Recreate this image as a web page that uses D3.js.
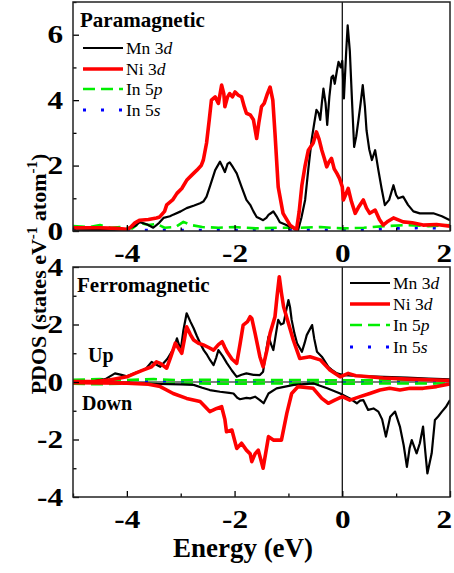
<html>
<head>
<script src="https://cdnjs.cloudflare.com/ajax/libs/d3/7.8.5/d3.min.js"></script>
<style>
  body { margin: 0; background: #fff; }
  text { font-family: "Liberation Serif", "Times New Roman", serif; }
</style>
</head>
<body>
<div id="cont"></div>
<script>
// ---- data: [energy (eV), PDOS] ----
var paraMn = [[-5,0.02],[-4.6,0.03],[-4.3,0.03],[-4.0,0.05],[-3.85,0.15],[-3.76,0.27],[-3.62,0.2],[-3.51,0.1],[-3.4,0.25],[-3.32,0.4],[-3.2,0.45],[-3.14,0.5],[-3.0,0.6],[-2.89,0.7],[-2.75,0.78],[-2.64,0.85],[-2.58,0.9],[-2.52,1.05],[-2.45,1.4],[-2.36,1.86],[-2.27,2.12],[-2.22,1.95],[-2.18,1.8],[-2.13,2.05],[-2.09,2.1],[-2.03,1.95],[-1.96,1.76],[-1.87,1.35],[-1.78,0.95],[-1.71,0.8],[-1.65,0.6],[-1.59,0.43],[-1.53,0.38],[-1.47,0.33],[-1.41,0.4],[-1.37,0.49],[-1.32,0.55],[-1.28,0.6],[-1.22,0.45],[-1.16,0.27],[-1.06,0.2],[-0.97,0.13],[-0.9,0.08],[-0.82,0.03],[-0.76,0.4],[-0.69,0.95],[-0.63,1.9],[-0.57,2.78],[-0.52,3.3],[-0.48,3.7],[-0.44,3.6],[-0.41,3.4],[-0.38,3.9],[-0.35,4.35],[-0.31,3.9],[-0.28,3.24],[-0.24,4.1],[-0.2,4.7],[-0.17,4.75],[-0.14,4.5],[-0.1,4.9],[-0.07,5.17],[-0.03,5.0],[0,5.2],[0.03,4.05],[0.07,5.4],[0.10,6.29],[0.14,5.5],[0.18,4.0],[0.22,2.57],[0.26,2.9],[0.30,3.39],[0.34,3.9],[0.38,4.46],[0.42,3.8],[0.45,3.08],[0.5,2.5],[0.55,2.17],[0.61,2.47],[0.67,1.86],[0.73,1.3],[0.79,0.79],[0.87,0.95],[0.95,1.4],[1.0,1.1],[1.04,1.0],[1.13,1.05],[1.22,0.8],[1.32,0.6],[1.44,0.54],[1.69,0.54],[1.85,0.45],[2.0,0.33]];
var paraNi = [[-5,0.1],[-4.5,0.1],[-4.2,0.08],[-4.0,0.05],[-3.94,0.1],[-3.85,0.25],[-3.76,0.33],[-3.6,0.35],[-3.45,0.4],[-3.39,0.43],[-3.3,0.6],[-3.26,0.8],[-3.15,0.95],[-3.07,1.15],[-2.98,1.3],[-2.89,1.55],[-2.8,1.7],[-2.70,1.86],[-2.62,2.0],[-2.58,2.17],[-2.52,2.69],[-2.47,3.4],[-2.43,4.0],[-2.36,4.1],[-2.3,3.9],[-2.24,4.46],[-2.2,4.2],[-2.18,3.8],[-2.13,4.1],[-2.09,4.2],[-2.04,4.1],[-1.99,4.25],[-1.93,4.15],[-1.87,4.1],[-1.82,3.8],[-1.78,3.6],[-1.71,3.55],[-1.65,3.4],[-1.59,2.83],[-1.55,3.3],[-1.50,3.8],[-1.45,3.9],[-1.39,4.2],[-1.34,4.4],[-1.29,4.0],[-1.25,3.0],[-1.19,1.35],[-1.10,0.54],[-0.97,0.18],[-0.85,0.03],[-0.8,0.6],[-0.75,1.4],[-0.69,2.0],[-0.63,2.47],[-0.54,2.69],[-0.48,3.03],[-0.43,2.8],[-0.38,2.47],[-0.33,2.2],[-0.29,1.96],[-0.25,2.1],[-0.2,2.22],[-0.15,1.9],[-0.1,1.76],[-0.05,1.6],[0,1.35],[0.02,0.95],[0.06,1.1],[0.11,1.3],[0.17,0.9],[0.24,0.54],[0.31,0.75],[0.39,0.95],[0.45,0.7],[0.51,0.54],[0.61,0.64],[0.69,0.35],[0.76,0.18],[0.85,0.3],[0.95,0.4],[1.13,0.28],[1.3,0.25],[1.5,0.18],[1.75,0.2],[2.0,0.15]];
var paraIn5p = [[-5,0.15],[-4.7,0.12],[-4.5,0.18],[-4.3,0.1],[-4.1,0.12],[-3.9,0.08],[-3.76,0.25],[-3.6,0.18],[-3.45,0.22],[-3.3,0.1],[-3.1,0.12],[-2.95,0.28],[-2.8,0.18],[-2.6,0.12],[-2.3,0.1],[-2.0,0.12],[-1.6,0.08],[-1.2,0.1],[-0.8,0.1],[-0.4,0.12],[0,0.08],[0.4,0.1],[0.8,0.15],[1.2,0.18],[1.6,0.15],[2,0.18]];
var paraIn5s = [[-5,0.03],[-4.5,0.03],[-4.2,0.08],[-3.8,0.02],[-3,0.02],[-2,0.02],[-1,0.03],[0,0.03],[0.5,0.05],[1.0,0.08],[1.5,0.1],[2,0.08]];

var ferroMnUp = [[-5,0.02],[-4.6,0.03],[-4.4,0.1],[-4.22,0.3],[-4.1,0.25],[-4.0,0.2],[-3.8,0.35],[-3.65,0.45],[-3.54,0.7],[-3.45,0.6],[-3.38,0.53],[-3.25,0.8],[-3.12,1.2],[-3.07,1.52],[-3.0,1.1],[-2.95,1.8],[-2.89,2.39],[-2.82,2.1],[-2.76,1.87],[-2.7,1.6],[-2.64,1.35],[-2.57,1.1],[-2.51,0.94],[-2.45,0.75],[-2.39,0.59],[-2.34,0.85],[-2.30,1.11],[-2.22,0.9],[-2.14,0.65],[-2.05,0.4],[-1.96,0.18],[-1.87,0.25],[-1.78,0.3],[-1.65,0.25],[-1.53,0.24],[-1.47,0.36],[-1.42,1.0],[-1.37,1.58],[-1.32,1.3],[-1.28,1.11],[-1.23,1.7],[-1.19,2.16],[-1.14,2.0],[-1.09,2.04],[-1.04,2.5],[-1.0,2.85],[-0.97,2.6],[-0.94,2.16],[-0.89,1.7],[-0.84,1.35],[-0.75,1.05],[-0.7,1.35],[-0.66,1.63],[-0.56,1.98],[-0.52,1.5],[-0.47,1.05],[-0.38,0.88],[-0.3,0.65],[-0.26,0.53],[-0.18,0.4],[-0.10,0.3],[0.02,0.24],[0.2,0.22],[0.5,0.2],[0.77,0.18],[1.2,0.15],[1.6,0.12],[2.0,0.09]];
var ferroNiUp = [[-5,0.02],[-4.6,0.02],[-4.3,0.08],[-4.0,0.18],[-3.85,0.3],[-3.69,0.42],[-3.54,0.53],[-3.45,0.7],[-3.38,0.65],[-3.26,0.48],[-3.18,0.9],[-3.1,1.35],[-2.98,1.0],[-2.93,1.5],[-2.89,1.92],[-2.82,1.65],[-2.76,1.46],[-2.67,1.35],[-2.58,1.29],[-2.48,1.2],[-2.39,1.11],[-2.3,1.3],[-2.23,1.4],[-2.18,1.2],[-2.14,1.05],[-2.05,0.8],[-1.96,0.65],[-1.9,1.3],[-1.84,1.98],[-1.76,2.1],[-1.71,2.27],[-1.68,2.21],[-1.62,1.7],[-1.53,0.88],[-1.47,0.53],[-1.4,1.1],[-1.34,1.7],[-1.25,2.27],[-1.21,3.0],[-1.17,3.66],[-1.13,3.1],[-1.09,2.62],[-1.0,2.04],[-0.91,1.46],[-0.79,0.82],[-0.6,0.88],[-0.41,0.77],[-0.23,0.42],[-0.04,0.18],[0.11,0.3],[0.25,0.22],[0.39,0.2],[0.76,0.14],[1.2,0.1],[1.6,0.08],[2,0.05]];
var ferroMnDown = [[-5,-0.02],[-4.0,-0.03],[-3.38,-0.07],[-3.0,-0.08],[-2.76,-0.1],[-2.6,-0.2],[-2.46,-0.28],[-2.27,-0.34],[-2.1,-0.38],[-2.02,-0.4],[-1.95,-0.55],[-1.9,-0.6],[-1.78,-0.55],[-1.71,-0.57],[-1.62,-0.51],[-1.53,-0.63],[-1.46,-0.74],[-1.37,-0.4],[-1.22,-0.22],[-0.9,-0.1],[-0.53,-0.05],[-0.28,-0.22],[-0.04,-0.4],[0.14,-0.57],[0.27,-0.74],[0.33,-0.65],[0.39,-0.63],[0.48,-0.97],[0.58,-0.92],[0.67,-1.03],[0.74,-1.3],[0.81,-1.9],[0.89,-1.21],[0.98,-1.03],[1.07,-1.55],[1.14,-2.2],[1.2,-2.95],[1.25,-2.3],[1.29,-2.02],[1.38,-2.48],[1.44,-2.13],[1.5,-1.55],[1.54,-2.4],[1.58,-3.18],[1.66,-2.48],[1.72,-1.32],[1.78,-1.2],[1.85,-1.03],[1.93,-0.85],[2,-0.63]];
var ferroNiDown = [[-5,-0.02],[-4.0,-0.04],[-3.6,-0.08],[-3.38,-0.16],[-3.14,-0.4],[-2.89,-0.57],[-2.64,-0.68],[-2.55,-0.85],[-2.46,-1.03],[-2.33,-0.92],[-2.24,-0.86],[-2.18,-1.3],[-2.15,-1.73],[-2.05,-1.67],[-1.96,-2.31],[-1.87,-2.13],[-1.78,-2.37],[-1.71,-2.5],[-1.68,-2.77],[-1.62,-2.5],[-1.56,-2.37],[-1.47,-3.0],[-1.37,-1.9],[-1.28,-2.02],[-1.13,-2.02],[-1.03,-1.09],[-0.94,-0.4],[-0.82,-0.16],[-0.54,-0.22],[-0.38,-0.57],[-0.26,-0.74],[-0.14,-0.63],[0,-0.51],[0.14,-0.63],[0.33,-0.51],[0.51,-0.4],[0.7,-0.28],[0.88,-0.22],[1.07,-0.28],[1.26,-0.22],[1.5,-0.22],[1.75,-0.16],[2,-0.07]];
var ferroIn5pUp = [[-5,0.08],[-4.5,0.1],[-4,0.07],[-3.5,0.1],[-3,0.06],[-2.5,0.08],[-2,0.06],[-1,0.07],[0,0.06],[1,0.07],[2,0.08]];
var ferroIn5pDown = [[-5,-0.06],[-4.5,-0.08],[-4,-0.05],[-3.5,-0.07],[-3,-0.05],[-2,-0.06],[-1,-0.05],[0,-0.06],[1,-0.05],[2,-0.05]];
var ferroIn5sUp = [[-5,0.03],[-4,0.03],[-3,0.02],[-2,0.03],[-1,0.03],[0,0.03],[1,0.03],[2,0.04]];
var ferroIn5sDown = [[-5,-0.02],[-4,-0.02],[-3,-0.02],[-2,-0.02],[-1,-0.02],[0,-0.02],[1,-0.02],[2,-0.03]];

var xMajor = [-4, -2, 0, 2];
var xMinor = [-5, -3, -1, 1];
var paraTicks = [0, 2, 4, 6];
var ferroTicks = [-4, -2, 0, 2, 4];
var legendNames = [['Mn 3', 'd'], ['Ni 3', 'd'], ['In 5', 'p'], ['In 5', 's']];

(function() {
    var W = 454, H = 573,
        left = 73, right = 450,
        svg = d3.select('#cont').append('svg').attr('width', W).attr('height', H);

    svg.append('rect').attr('width', W).attr('height', H).attr('fill', '#fff');

    var x = d3.scaleLinear().domain([-5, 2]).range([left, right]);

    var styles = [
        {stroke: '#000', width: 2.2, dash: null},
        {stroke: '#ff0000', width: 3.6, dash: null},
        {stroke: '#00ee00', width: 2.6, dash: '12,6'},
        {stroke: '#0000ff', width: 3, dash: '3,15'}
    ];

    function panel(id, top, bottom, yDomain, yTicks, series, opts) {
        var y = d3.scaleLinear().domain(yDomain).range([bottom, top]);
        var g = svg.append('g');

        g.append('clipPath').attr('id', 'clip' + id)
            .append('rect').attr('x', left).attr('y', top)
            .attr('width', right - left).attr('height', bottom - top);

        var plot = g.append('g').attr('clip-path', 'url(#clip' + id + ')');

        if (opts.zeroLine) {
            plot.append('line')
                .attr('x1', left).attr('x2', right)
                .attr('y1', y(0)).attr('y2', y(0))
                .attr('stroke', '#000').attr('stroke-width', 1.2);
        }
        plot.append('line')
            .attr('x1', x(0)).attr('x2', x(0))
            .attr('y1', top).attr('y2', bottom)
            .attr('stroke', '#000').attr('stroke-width', 1.2);

        var line = d3.line().x(function(d) { return x(d[0]); }).y(function(d) { return y(d[1]); });

        // draw order: In 5s, In 5p, Mn, Ni
        series.forEach(function(s) {
            var st = styles[s.k];
            plot.append('path')
                .datum(s.data)
                .attr('d', line)
                .attr('fill', 'none')
                .attr('stroke', st.stroke)
                .attr('stroke-width', st.width)
                .attr('stroke-linejoin', 'round')
                .attr('stroke-dasharray', st.dash);
        });

        // axes, ticks inside
        var xa = g.append('g').attr('class', 'xa').attr('transform', 'translate(0,' + bottom + ')')
            .call(d3.axisBottom(x).tickValues(xMajor).tickSizeInner(-6).tickSizeOuter(0).tickPadding(13)
                .tickFormat(function(d) { return d; }));
        g.append('g').attr('transform', 'translate(0,' + bottom + ')')
            .call(d3.axisBottom(x).tickValues(xMinor).tickSizeInner(-3.5).tickSizeOuter(0).tickFormat(''));

        var minorY = [];
        for (var v = yDomain[0]; v <= yDomain[1]; v++) if (yTicks.indexOf(v) < 0) minorY.push(v);

        g.append('g').attr('transform', 'translate(' + left + ',0)')
            .call(d3.axisLeft(y).tickValues(yTicks).tickSizeInner(-6).tickSizeOuter(0).tickPadding(8)
                .tickFormat(function(d) { return d; }));
        g.append('g').attr('transform', 'translate(' + left + ',0)')
            .call(d3.axisLeft(y).tickValues(minorY).tickSizeInner(-3.5).tickSizeOuter(0).tickFormat(''));

        g.selectAll('.tick line').attr('stroke', '#000').attr('stroke-width', 1.3);
        g.selectAll('.domain').remove();
        // tick labels: wide bold Times-like digits
        g.selectAll('.tick text')
            .style('font-family', '"Liberation Serif", serif')
            .style('font-size', '25px').style('font-weight', 'bold').attr('fill', '#000')
            .attr('transform', 'scale(1.25,1)');

        // keep the last x label inside the picture
        xa.selectAll('.tick text').filter(function(d) { return d === 2; })
            .attr('text-anchor', 'end').attr('dx', '0.05em');

        // frame
        g.append('rect').attr('x', left).attr('y', top)
            .attr('width', right - left).attr('height', bottom - top)
            .attr('fill', 'none').attr('stroke', '#222').attr('stroke-width', 1.5);

        g.append('text').attr('x', opts.titleX).attr('y', opts.titleY)
            .style('font-size', '21px').style('font-weight', 'bold').text(opts.title);

        // legend
        opts.legendY.forEach(function(ly, i) {
            var st = styles[i];
            g.append('line')
                .attr('x1', opts.legendX).attr('x2', opts.legendX + 40)
                .attr('y1', ly).attr('y2', ly)
                .attr('stroke', st.stroke).attr('stroke-width', st.width)
                .attr('stroke-dasharray', st.dash);
            var t = g.append('text').attr('x', opts.legendX + 43).attr('y', ly + 6)
                .style('font-size', '17.5px');
            t.append('tspan').text(legendNames[i][0]);
            t.append('tspan').style('font-style', 'italic').text(legendNames[i][1]);
        });
        return g;
    }

    panel('p', 2, 231, [0, 7], paraTicks, [
        {k: 3, data: paraIn5s}, {k: 2, data: paraIn5p}, {k: 0, data: paraMn}, {k: 1, data: paraNi}
    ], {title: 'Paramagnetic', titleX: 80, titleY: 27, legendX: 83, legendY: [48, 69, 89, 110]});

    var fg = panel('f', 267, 497, [-4, 4], ferroTicks, [
        {k: 3, data: ferroIn5sUp}, {k: 3, data: ferroIn5sDown},
        {k: 2, data: ferroIn5pUp}, {k: 2, data: ferroIn5pDown},
        {k: 0, data: ferroMnUp}, {k: 0, data: ferroMnDown},
        {k: 1, data: ferroNiUp}, {k: 1, data: ferroNiDown}
    ], {title: 'Ferromagnetic', titleX: 77, titleY: 292, zeroLine: true, legendX: 350, legendY: [283, 304, 325, 347]});

    fg.append('text').attr('x', 88).attr('y', 362).style('font-size', '20px').style('font-weight', 'bold').text('Up');
    fg.append('text').attr('x', 82).attr('y', 410).style('font-size', '20px').style('font-weight', 'bold').text('Down');

    // axis titles
    svg.append('text').attr('x', 243).attr('y', 557)
        .attr('text-anchor', 'middle').style('font-size', '27px').style('font-weight', 'bold')
        .text('Energy (eV)');

    var yl = svg.append('text')
        .attr('transform', 'translate(46,274) rotate(-90)')
        .attr('text-anchor', 'middle').style('font-size', '22px').style('font-weight', 'bold');
    yl.append('tspan').text('PDOS (states eV');
    yl.append('tspan').style('font-size', '15px').attr('dy', -9).text('-1');
    yl.append('tspan').attr('dy', 9).text(' atom');
    yl.append('tspan').style('font-size', '15px').attr('dy', -9).text('-1');
    yl.append('tspan').attr('dy', 9).text(')');
})();
</script>
</body>
</html>
